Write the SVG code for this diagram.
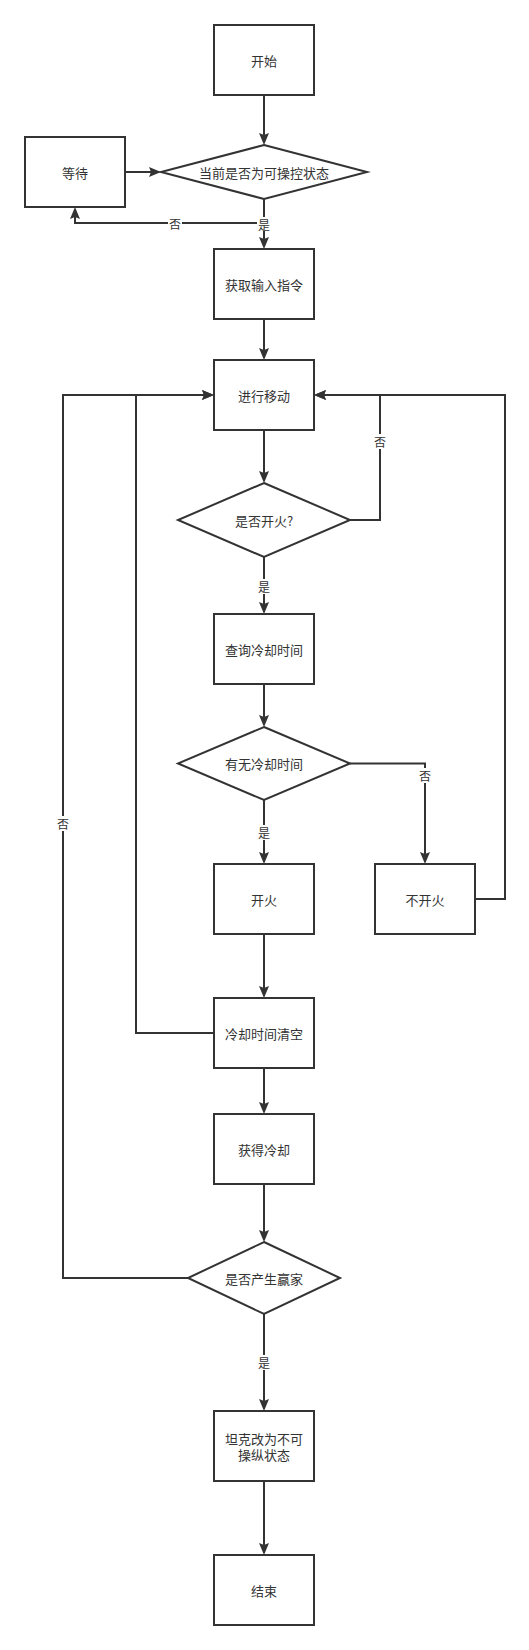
<svg xmlns="http://www.w3.org/2000/svg" width="529" height="1650" viewBox="0 0 529 1650">
<defs>
<marker id="arr" markerUnits="userSpaceOnUse" viewBox="0 0 12 10" refX="8" refY="5" markerWidth="12" markerHeight="10" orient="auto">
<path d="M0,0 L12,5 L0,10 L2,5 z" fill="#333"/>
</marker>
<style>
.n{fill:#fff;stroke:#333;stroke-width:2}
.t{font-family:"Noto Sans CJK SC","Liberation Sans",sans-serif;font-size:13px;fill:#333;text-anchor:middle;dominant-baseline:central}
.l{font-family:"Noto Sans CJK SC","Liberation Sans",sans-serif;font-size:12px;fill:#333;text-anchor:middle;dominant-baseline:central}
.c{fill:none;stroke:#333;stroke-width:2;marker-end:url(#arr)}
.bg{fill:#fff}
</style>
</defs>
<rect width="529" height="1650" fill="#fff"/>
<g id="connectors">
<path class="c" d="M264,95 V141"/>
<path class="c" d="M125,172 H157"/>
<path class="c" d="M264,199 V223 H75 V211"/>
<path class="c" d="M264,199 V245"/>
<path class="c" d="M264,319 V356"/>
<path class="c" d="M264,430 V479"/>
<path class="c" d="M350,520 H380 V395 H318"/>
<path class="c" d="M264,557 V610"/>
<path class="c" d="M264,684 V723"/>
<path class="c" d="M350,763.5 H425 V860"/>
<path class="c" d="M264,800 V860"/>
<path class="c" d="M475,899 H505 V395 H318"/>
<path class="c" d="M264,934 V994"/>
<path class="c" d="M214,1033 H136 V395 H210"/>
<path class="c" d="M264,1068 V1110"/>
<path class="c" d="M264,1184 V1238"/>
<path class="c" d="M188,1278 H63 V395 H210"/>
<path class="c" d="M264,1314 V1407"/>
<path class="c" d="M264,1481 V1551"/>
<g id="labels">
<rect class="bg" x="168" y="216" width="14" height="14"/><text class="l" x="175" y="223">否</text>
<rect class="bg" x="257" y="217" width="14" height="14"/><text class="l" x="264" y="224">是</text>
<rect class="bg" x="373" y="434" width="14" height="15"/><text class="l" x="380" y="441">否</text>
<rect class="bg" x="257" y="579" width="14" height="15"/><text class="l" x="264" y="586">是</text>
<rect class="bg" x="418" y="768" width="14" height="15"/><text class="l" x="425" y="775">否</text>
<rect class="bg" x="257" y="825" width="14" height="15"/><text class="l" x="264" y="832">是</text>
<rect class="bg" x="56" y="816" width="14" height="15"/><text class="l" x="63" y="823">否</text>
<rect class="bg" x="257" y="1355" width="14" height="15"/><text class="l" x="264" y="1362">是</text>
</g>
</g>
<g id="start"><rect class="n" x="214" y="25" width="100" height="70"/><text class="t" x="264" y="60">开始</text></g>
<g id="check-state"><polygon class="n" points="264,145 367,172 264,199 161,172"/><text class="t" x="264" y="172">当前是否为可操控状态</text></g>
<g id="wait"><rect class="n" x="25" y="137" width="100" height="70"/><text class="t" x="75" y="172">等待</text></g>
<g id="get-input"><rect class="n" x="214" y="249" width="100" height="70"/><text class="t" x="264" y="284">获取输入指令</text></g>
<g id="move"><rect class="n" x="214" y="360" width="100" height="70"/><text class="t" x="264" y="395">进行移动</text></g>
<g id="fire-q"><polygon class="n" points="264,483 350,520 264,557 178,520"/><text class="t" x="264" y="520">是否开火?</text></g>
<g id="query-cd"><rect class="n" x="214" y="614" width="100" height="70"/><text class="t" x="264" y="649">查询冷却时间</text></g>
<g id="has-cd"><polygon class="n" points="264,727 350,763.5 264,800 178,763.5"/><text class="t" x="264" y="763.5">有无冷却时间</text></g>
<g id="fire"><rect class="n" x="214" y="864" width="100" height="70"/><text class="t" x="264" y="899">开火</text></g>
<g id="no-fire"><rect class="n" x="375" y="864" width="100" height="70"/><text class="t" x="425" y="899">不开火</text></g>
<g id="clear-cd"><rect class="n" x="214" y="998" width="100" height="70"/><text class="t" x="264" y="1033">冷却时间清空</text></g>
<g id="get-cd"><rect class="n" x="214" y="1114" width="100" height="70"/><text class="t" x="264" y="1149">获得冷却</text></g>
<g id="winner-q"><polygon class="n" points="264,1242 340,1278 264,1314 188,1278"/><text class="t" x="264" y="1278">是否产生赢家</text></g>
<g id="tank-lock"><rect class="n" x="214" y="1411" width="100" height="70"/><text class="t" x="264" y="1438">坦克改为不可</text><text class="t" x="264" y="1454">操纵状态</text></g>
<g id="end"><rect class="n" x="214" y="1555" width="100" height="70"/><text class="t" x="264" y="1590">结束</text></g>
</svg>
